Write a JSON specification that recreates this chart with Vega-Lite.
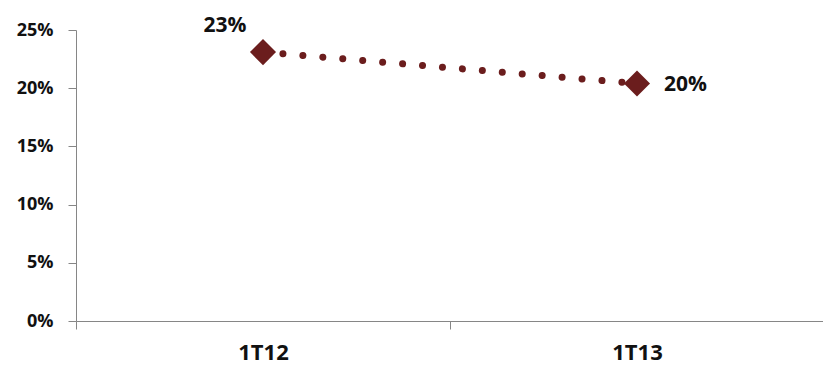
{
  "$schema": "https://vega.github.io/schema/vega-lite/v6.json",
  "width": 748,
  "height": 291,
  "autosize": {"type": "none"},
  "padding": {"left": 76, "top": 30, "right": 0, "bottom": 46},
  "background": "white",
  "config": {"view": {"stroke": null}},
  "data": {"values": [
    {"period": "1T12", "value": 0.231, "label": "23%"},
    {"period": "1T13", "value": 0.204, "label": "20%"}
  ]},
  "encoding": {
    "x": {
      "field": "period", "type": "ordinal",
      "scale": {"type": "band", "paddingInner": 0, "paddingOuter": 0},
      "axis": {
        "title": null, "labelAngle": 0, "tickBand": "extent",
        "domainColor": "#868686", "tickColor": "#868686", "tickSize": 8,
        "labelFont": "Open Sans", "labelFontWeight": "bold", "labelFontSize": 22,
        "labelColor": "#111111", "labelPadding": 13
      }
    },
    "y": {
      "field": "value", "type": "quantitative",
      "scale": {"domain": [0, 0.25], "nice": false},
      "axis": {
        "title": null, "grid": false, "values": [0, 0.05, 0.1, 0.15, 0.2, 0.25],
        "format": ".0%", "domainColor": "#868686", "tickColor": "#868686", "tickSize": 8,
        "labelFont": "Open Sans", "labelFontWeight": "bold", "labelFontSize": 18,
        "labelColor": "#111111", "labelPadding": 15
      }
    }
  },
  "layer": [
    {
      "mark": {"type": "line", "color": "#6b1d1d", "strokeWidth": 7, "strokeCap": "round", "strokeDash": [0.01, 20]}
    },
    {
      "mark": {"type": "point", "shape": "diamond", "filled": true, "size": 680, "color": "#6b1d1d", "opacity": 1}
    },
    {
      "transform": [{"filter": "datum.period == '1T12'"}],
      "mark": {"type": "text", "font": "Open Sans", "fontWeight": "bold", "fontSize": 21, "color": "#111111", "align": "center", "dx": -38, "dy": -26},
      "encoding": {"text": {"field": "label"}}
    },
    {
      "transform": [{"filter": "datum.period == '1T13'"}],
      "mark": {"type": "text", "font": "Open Sans", "fontWeight": "bold", "fontSize": 21, "color": "#111111", "align": "left", "dx": 27, "dy": 1},
      "encoding": {"text": {"field": "label"}}
    }
  ]
}
